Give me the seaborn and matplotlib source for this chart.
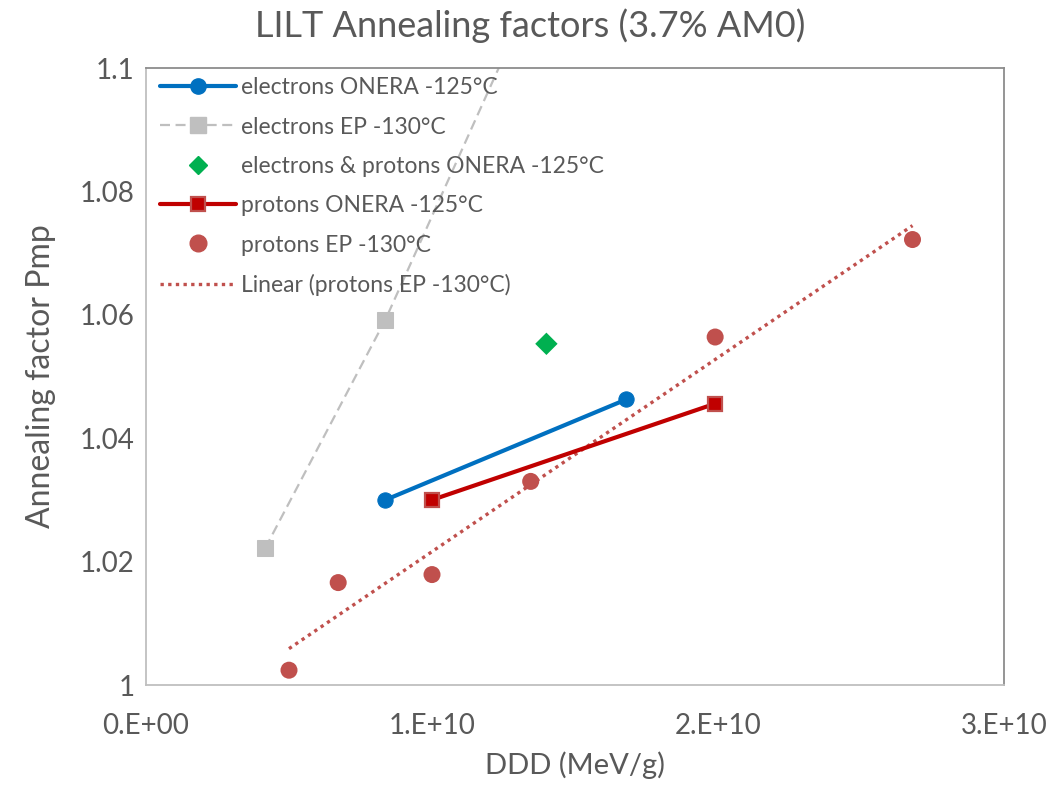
import matplotlib
matplotlib.use('Agg')
import matplotlib.pyplot as plt
from matplotlib.lines import Line2D
import seaborn as sns
import numpy as np
import pandas as pd

# Valores (DDD em MeV/g, fator de recozimento Pmp)
elec_onera_x = [8.37e9, 1.68e10]
elec_onera_y = [1.030, 1.0463]

elec_ep_x = [4.17e9, 8.37e9, 1.68e10]
elec_ep_y = [1.0222, 1.0592, 1.146]

elec_prot_onera_x = [1.40e10]
elec_prot_onera_y = [1.0553]

prot_onera_x = [1.0e10, 1.99e10]
prot_onera_y = [1.030, 1.0456]

prot_ep_x = [5.0e9, 6.72e9, 1.0e10, 1.345e10, 1.99e10, 2.68e10]
prot_ep_y = [1.0024, 1.0166, 1.0179, 1.0330, 1.0564, 1.0722]

x_ticks = [0, 1e10, 2e10, 3e10]
x_tick_labels = ['0.E+00', '1.E+10', '2.E+10', '3.E+10']
y_ticks = [1.0, 1.02, 1.04, 1.06, 1.08, 1.1]
y_tick_labels = ['1', '1.02', '1.04', '1.06', '1.08', '1.1']

labels = ['electrons ONERA -125°C', 'electrons EP -130°C',
          'electrons & protons ONERA -125°C', 'protons ONERA -125°C',
          'protons EP -130°C', 'Linear (protons EP -130°C)']

sns.set_style('white')
plt.rcParams['font.family'] = ['Lato', 'DejaVu Sans']
txt = '#595959'
dot = (0, (1, 1.3))
dash = (0, (4.5, 2.5))

fig = plt.figure(figsize=(10.61, 7.89), dpi=100)
ax = fig.add_axes([0.1376, 0.1318, 0.8087, 0.782])

df_eo = pd.DataFrame({'x': elec_onera_x, 'y': elec_onera_y})
df_ee = pd.DataFrame({'x': elec_ep_x, 'y': elec_ep_y})
df_epo = pd.DataFrame({'x': elec_prot_onera_x, 'y': elec_prot_onera_y})
df_po = pd.DataFrame({'x': prot_onera_x, 'y': prot_onera_y})
df_pe = pd.DataFrame({'x': prot_ep_x, 'y': prot_ep_y})

# Tendência linear dos protons EP
sns.regplot(data=df_pe, x='x', y='y', ax=ax, scatter=False, ci=None, truncate=True,
            line_kws=dict(color='#C0504D', lw=2.4, linestyle=dot))

sns.lineplot(data=df_ee, x='x', y='y', ax=ax, color='#BFBFBF', lw=1.6,
             linestyle=dash, marker='s', markersize=11,
             markeredgecolor='#BFBFBF')
sns.lineplot(data=df_eo, x='x', y='y', ax=ax, color='#0070C0', lw=3.0,
             marker='o', markersize=11, markeredgecolor='#0070C0')
sns.lineplot(data=df_po, x='x', y='y', ax=ax, color='#C00000', lw=3.0,
             marker='s', markersize=10, markeredgecolor='#C0504D', markeredgewidth=1.6)
sns.scatterplot(data=df_epo, x='x', y='y', ax=ax, color='#00B050', marker='D',
                s=130, edgecolor='none', zorder=5)
sns.scatterplot(data=df_pe, x='x', y='y', ax=ax, color='#C0504D', marker='o',
                s=150, edgecolor='none', zorder=5)

ax.set_xlim(0, 3e10)
ax.set_ylim(1.0, 1.1)
ax.set_xticks(x_ticks)
ax.set_xticklabels(x_tick_labels)
ax.set_yticks(y_ticks)
ax.set_yticklabels(y_tick_labels)
ax.set_xticks(np.arange(0, 3.01e10, 2e9), minor=True)
ax.set_yticks(np.arange(1.0, 1.1001, 0.01), minor=True)
ax.tick_params(which='both', direction='in', length=7, width=1, color='#BFBFBF',
               labelsize=20, labelcolor=txt)
ax.tick_params(axis='x', which='major', pad=20)
ax.tick_params(axis='y', which='major', pad=8)

for s in ['left', 'bottom']:
    ax.spines[s].set_color('#BFBFBF')
    ax.spines[s].set_linewidth(1.3)
for s in ['top', 'right']:
    ax.spines[s].set_color('#8C8C8C')
    ax.spines[s].set_linewidth(1.3)

ax.set_xlabel('DDD (MeV/g)', fontsize=21, color=txt, labelpad=9)
ax.set_ylabel('Annealing factor Pmp', fontsize=23, color=txt, labelpad=17)
fig.suptitle('LILT Annealing factors (3.7% AM0)', fontsize=26, color=txt, y=0.99)

handles = [
    Line2D([], [], color='#0070C0', lw=3.0, marker='o', markersize=11),
    Line2D([], [], color='#BFBFBF', lw=1.6, linestyle=dash, marker='s', markersize=11),
    Line2D([], [], color='#00B050', lw=0, marker='D', markersize=9),
    Line2D([], [], color='#C00000', lw=3.0, marker='s', markersize=10,
           markeredgecolor='#C0504D', markeredgewidth=1.6),
    Line2D([], [], color='#C0504D', lw=0, marker='o', markersize=12),
    Line2D([], [], color='#C0504D', lw=2.4, linestyle=dot),
]
leg = ax.legend(handles, labels, loc='upper left', bbox_to_anchor=(0.006, 1.0),
                frameon=False, fontsize=16.5, handlelength=3.3, handletextpad=0.2,
                labelspacing=0.8, borderaxespad=0.0, labelcolor=txt)

fig.savefig('out.png', dpi=100)
